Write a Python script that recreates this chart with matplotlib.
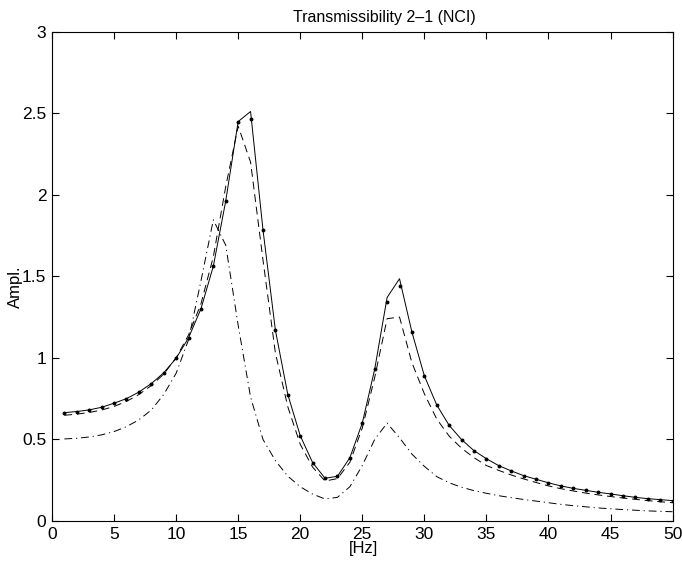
import matplotlib
matplotlib.use("Agg")
import matplotlib.pyplot as plt

plt.rcParams['font.family'] = ['Liberation Sans', 'DejaVu Sans']

# Frequency axis (Hz)
freq = list(range(1, 51))

# Transmissibility amplitudes 2-1
solid_amp = [0.664, 0.671, 0.681, 0.697, 0.722, 0.750, 0.790, 0.842, 0.908, 0.997,
             1.122, 1.300, 1.562, 1.962, 2.448, 2.510, 1.785, 1.170, 0.775, 0.523,
             0.358, 0.262, 0.274, 0.388, 0.600, 0.930, 1.370, 1.485, 1.158, 0.890,
             0.711, 0.586, 0.499, 0.431, 0.382, 0.339, 0.307, 0.278, 0.256, 0.234,
             0.215, 0.200, 0.188, 0.176, 0.166, 0.155, 0.145, 0.137, 0.131, 0.125]

dot_amp = [0.664, 0.671, 0.681, 0.697, 0.722, 0.750, 0.790, 0.842, 0.908, 0.997,
           1.122, 1.300, 1.562, 1.962, 2.448, 2.464, 1.785, 1.170, 0.775, 0.523,
           0.358, 0.262, 0.274, 0.388, 0.600, 0.930, 1.345, 1.440, 1.158, 0.890,
           0.711, 0.586, 0.499, 0.431, 0.382, 0.339, 0.307, 0.278, 0.256, 0.234,
           0.215, 0.200, 0.188, 0.176, 0.166, 0.155, 0.145, 0.137, 0.131, 0.125]

dashed_amp = [0.648, 0.655, 0.665, 0.680, 0.702, 0.733, 0.775, 0.830, 0.900, 1.000,
              1.140, 1.330, 1.620, 2.050, 2.420, 2.200, 1.600, 1.030, 0.700, 0.470,
              0.330, 0.245, 0.260, 0.360, 0.570, 0.880, 1.240, 1.250, 0.970, 0.780,
              0.625, 0.520, 0.446, 0.388, 0.340, 0.310, 0.282, 0.258, 0.236, 0.215,
              0.198, 0.184, 0.171, 0.160, 0.150, 0.141, 0.133, 0.125, 0.118, 0.112]

dashdot_amp = [0.503, 0.507, 0.515, 0.528, 0.548, 0.578, 0.620, 0.680, 0.775, 0.905,
               1.110, 1.470, 1.846, 1.690, 1.200, 0.760, 0.500, 0.370, 0.275, 0.210,
               0.165, 0.135, 0.145, 0.210, 0.340, 0.500, 0.600, 0.510, 0.410, 0.335,
               0.272, 0.234, 0.207, 0.186, 0.170, 0.155, 0.143, 0.132, 0.122, 0.112,
               0.102, 0.094, 0.087, 0.080, 0.075, 0.070, 0.066, 0.062, 0.059, 0.057]

xticks = list(range(0, 51, 5))
yticks = [0, 0.5, 1, 1.5, 2, 2.5, 3]
ytick_labels = ['0', '0.5', '1', '1.5', '2', '2.5', '3']

fig = plt.figure(figsize=(6.82, 5.66), dpi=100)
ax = fig.add_axes([0.0762, 0.0795, 0.910, 0.8648])

lw = 0.7
ax.plot(freq, solid_amp, color='black', lw=lw, linestyle='-')
ax.plot(freq, dot_amp, color='black', linestyle='none', marker='o', markersize=1.8)
ax.plot(freq, dashed_amp, color='black', lw=lw, linestyle=(0, (8, 5)))
ax.plot(freq, dashdot_amp, color='black', lw=lw, linestyle=(0, (8, 4, 1.2, 4)))

ax.set_xlim(0, 50)
ax.set_ylim(0, 3)
ax.set_xticks(xticks)
ax.set_xticklabels([str(t) for t in xticks])
ax.set_yticks(yticks)
ax.set_yticklabels(ytick_labels)
ax.tick_params(direction='in', top=True, right=True, length=5, width=0.8,
               labelsize=12.5, pad=4)
for sp in ax.spines.values():
    sp.set_linewidth(0.8)

ax.text(0.535, 1.013, 'Transmissibility 2\u20131 (NCI)', transform=ax.transAxes,
        ha='center', va='bottom', fontsize=11.5)
ax.set_xlabel('[Hz]', fontsize=12)
ax.xaxis.set_label_coords(0.502, -0.040)
ax.set_ylabel('Ampl.', fontsize=12)
ax.yaxis.set_label_coords(-0.046, 0.478)

fig.savefig('out.png', dpi=100)
